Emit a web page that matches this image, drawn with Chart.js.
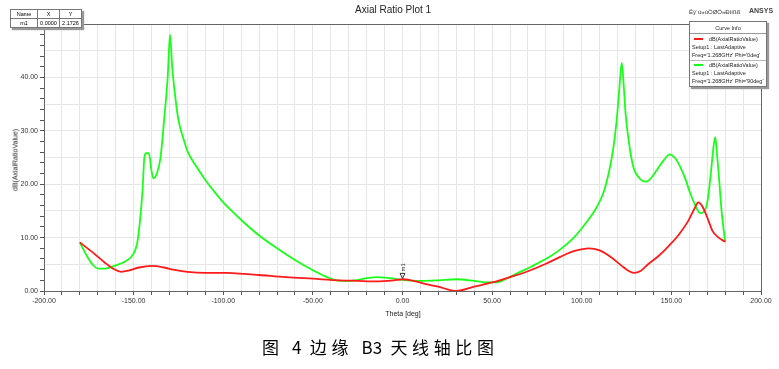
<!DOCTYPE html>
<html>
<head>
<meta charset="utf-8">
<script src="https://cdn.jsdelivr.net/npm/chart.js@4.4.0/dist/chart.umd.min.js"></script>
<style>
  body { margin: 0; background: #fff; font-family: "Liberation Sans", Arial, sans-serif; }
  #wrap { position: relative; width: 779px; height: 369px; overflow: hidden; }
  #plot { position: absolute; left: 0; top: 0; }
  .txt { position: absolute; white-space: nowrap; color: #222; }
  #markerTable { position: absolute; left: 10px; top: 9px; border-collapse: collapse; background: #fff;
    font-size: 5.5px; box-shadow: 2px 2px 1px #999; }
  #markerTable td { border: 1px solid #777; text-align: center; height: 8px; padding: 0 1px; }
  #curveInfo { position: absolute; left: 689px; top: 21px; width: 76px; height: 64px; background: #fff;
    border: 1px solid #777; box-shadow: 2px 2px 1px #999; font-size: 5.5px; color: #222; }
  #curveInfo div { position: absolute; white-space: nowrap; }
  .swatch { height: 2px; width: 9px; }
  .cap span { letter-spacing: 0; }
</style>
</head>
<body>
<div id="wrap">
  <canvas id="plot" width="779" height="320"></canvas>

  <div class="txt" style="left:355px;top:4px;font-size:10px;">Axial Ratio Plot 1</div>
  <div class="txt" style="left:689px;top:9px;font-size:6px;color:#333;">Éý´ú»úÖØÖ»Ðìíßß</div>
  <div class="txt" style="left:749px;top:7px;font-size:7px;font-weight:bold;color:#444;">ANSYS</div>

  <table id="markerTable">
    <tr><td style="width:24px">Name</td><td style="width:19px">X</td><td style="width:19px">Y</td></tr>
    <tr><td>m1</td><td>0.0000</td><td>2.1726</td></tr>
  </table>

  <div id="curveInfo">
    <div style="left:0;width:76px;top:3px;text-align:center;">Curve Info</div>
    <div style="left:0;width:76px;top:11px;height:0;border-top:1px solid #999;"></div>
    <div class="swatch" style="left:4px;top:16px;background:#ff1a1a;"></div>
    <div style="left:19px;top:14px;">dB(AxialRatioValue)</div>
    <div style="left:2px;top:22px;">Setup1 : LastAdaptive</div>
    <div style="left:2px;top:30px;">Freq='1.268GHz' Phi='0deg'</div>
    <div style="left:0;width:76px;top:38px;height:0;border-top:1px solid #bbb;"></div>
    <div class="swatch" style="left:4px;top:42px;background:#1aff1a;"></div>
    <div style="left:19px;top:40px;">dB(AxialRatioValue)</div>
    <div style="left:2px;top:48px;">Setup1 : LastAdaptive</div>
    <div style="left:2px;top:56px;">Freq='1.268GHz' Phi='90deg'</div>
  </div>

  <div class="txt" style="left:15px;top:160px;font-size:7px;transform:translate(-50%,-50%) rotate(-90deg);">dB(AxialRatioValue)</div>
  <div class="txt" style="left:403px;top:313px;font-size:7px;transform:translate(-50%,-50%);">Theta [deg]</div>

  <div class="txt cap" style="left:262px;top:334px;font-size:17px;letter-spacing:4.6px;color:#000;font-family:'Noto Sans CJK SC',serif;">图 <span>4</span> 边缘 <span>B3</span> 天线轴比图</div>
</div>

<script>
// Phi = 0deg (red)
const redTheta = [-180, -172, -166, -161, -157, -153, -147, -140, -133, -128, -120, -110, -98, -88, -80, -65,
    -50, -35, -25, -15, -5, 0, 6, 12, 20, 30, 40, 50, 60, 70, 80, 88, 96, 104, 110, 116, 122, 126, 129,
    133, 137, 143, 149, 154, 159, 163, 165, 167, 170, 173, 176, 180];
const redAR = [9.1, 7.0, 5.3, 4.1, 3.6, 3.8, 4.4, 4.7, 4.4, 4.0, 3.6, 3.4, 3.4, 3.2, 3.0, 2.6,
    2.3, 2.0, 1.9, 1.8, 2.0, 2.2, 1.9, 1.4, 0.8, 0.0, 0.8, 1.6, 2.6, 3.7, 5.1, 6.4, 7.5, 8.0, 7.6, 6.4, 4.8, 3.8, 3.4,
    3.8, 5.0, 6.6, 8.6, 10.5, 12.9, 15.5, 16.6, 16.0, 13.8, 11.2, 10.1, 9.2];

// Phi = 90deg (green)
const greenTheta = [-180, -176, -173, -170, -166, -160, -155, -150, -148, -146.5, -145, -144, -143, -141.5, -140,
    -139, -137, -135, -133, -131, -129.7, -128.5, -127, -125, -122, -120, -115, -110, -105, -100, -95, -90, -85,
    -80, -70, -60, -50, -42, -35, -29, -20, -14, -7, 0, 6, 12, 20, 30, 40, 48, 52, 58, 64, 72, 82, 88, 95, 102,
    108, 112, 115, 117.5, 119.5, 121, 122.3, 123.5, 124.5, 126.9, 129, 131.5, 134, 136, 139, 142, 146, 149, 152,
    155, 158, 160.5, 163, 166, 168, 170, 172, 173.5, 174.5, 175.5, 176.5, 178, 180];
const greenAR = [9.1, 6.5, 5.0, 4.2, 4.2, 4.8, 5.5, 7.0, 9.0, 13, 19, 25, 25.8, 25.8, 22.5,
    21.1, 22, 25, 32, 40, 48, 42, 37, 32, 28.3, 26.2, 23.3, 20.8, 18.6, 16.6, 14.9, 13.3, 11.8,
    10.4, 8.0, 5.8, 3.9, 2.6, 1.9, 1.9, 2.4, 2.6, 2.4, 2.1, 1.9, 1.9, 2.0, 2.2, 1.9, 1.6, 1.6, 2.3, 3.3, 4.6, 6.4, 7.8, 9.8, 12.6,
    15.5, 18.3, 22, 26.5, 32, 38, 42.7, 38, 33, 26.5, 23, 21.4, 20.6, 20.5, 21.3, 22.7, 24.6, 25.6, 24.9,
    23.2, 20.8, 18.3, 16.3, 14.6, 14.8, 16.5, 22, 27, 28.8, 25.5, 21.5, 15, 9.2];

// marker m1
const markerX = 0;
const markerY = 2.1726;

const toPoints = (xs, ys) => xs.map((x, i) => ({ x: x, y: ys[i] }));

function makeSeries(label, xs, ys, color) {
    return {
        label: label,
        data: toPoints(xs, ys),
        borderColor: color,
        borderWidth: 1.8,
        pointRadius: 0,
        cubicInterpolationMode: 'monotone',
        fill: false
    };
}

// plot frame + marker
const framePlugin = {
    id: 'frame',
    afterDraw(chart) {
        const { ctx, chartArea: a, scales } = chart;
        ctx.save();
        ctx.strokeStyle = '#666';
        ctx.lineWidth = 1;
        ctx.strokeRect(a.left + 0.5, a.top + 0.5, a.right - a.left, a.bottom - a.top);

        const px = scales.x.getPixelForValue(markerX);
        const py = scales.y.getPixelForValue(markerY);
        ctx.strokeStyle = '#333';
        ctx.beginPath();
        ctx.moveTo(px, py - 1);
        ctx.lineTo(px - 2.5, py - 6);
        ctx.lineTo(px + 2.5, py - 6);
        ctx.closePath();
        ctx.stroke();
        ctx.translate(px + 2, py - 8);
        ctx.rotate(-Math.PI / 2);
        ctx.fillStyle = '#333';
        ctx.font = '6px "Liberation Sans", Arial, sans-serif';
        ctx.textBaseline = 'alphabetic';
        ctx.fillText('m1', 0, 0);
        ctx.restore();
    }
};

const tickFont = { family: '"Liberation Sans", Arial, sans-serif', size: 7 };

new Chart(document.getElementById('plot').getContext('2d'), {
    type: 'line',
    data: {
        datasets: [
            makeSeries("Phi='0deg'", redTheta, redAR, '#ff1a1a'),
            makeSeries("Phi='90deg'", greenTheta, greenAR, '#1aff1a')
        ]
    },
    options: {
        responsive: false,
        animation: false,
        devicePixelRatio: 1,
        layout: { padding: { left: 0, right: 18, top: 24, bottom: 0 } },
        plugins: { legend: { display: false }, tooltip: { enabled: false } },
        scales: {
            x: {
                type: 'linear',
                min: -200,
                max: 200,
                afterFit: s => { s.height = 29; },
                ticks: {
                    stepSize: 10,
                    autoSkip: false,
                    maxRotation: 0,
                    padding: 2,
                    color: '#333',
                    font: tickFont,
                    callback: v => (v % 50 === 0 ? v.toFixed(2) : '')
                },
                grid: {
                    color: '#e6e6e6',
                    tickColor: '#555',
                    tickLength: 4
                },
                border: { color: '#666' }
            },
            y: {
                min: 0,
                max: 50,
                afterFit: s => { s.width = 44; },
                ticks: {
                    stepSize: 1,
                    autoSkip: false,
                    padding: 2,
                    color: '#333',
                    font: tickFont,
                    callback: v => (v % 10 === 0 && v < 50 ? v.toFixed(2) : '')
                },
                grid: {
                    color: c => (c.tick && c.tick.value % 5 === 0 ? '#e6e6e6' : 'rgba(0,0,0,0)'),
                    tickColor: c => (c.tick && c.tick.value % 2 === 0 ? '#555' : 'rgba(0,0,0,0)'),
                    tickLength: 4
                },
                border: { color: '#666' }
            }
        }
    },
    plugins: [framePlugin]
});
</script>
</body>
</html>
